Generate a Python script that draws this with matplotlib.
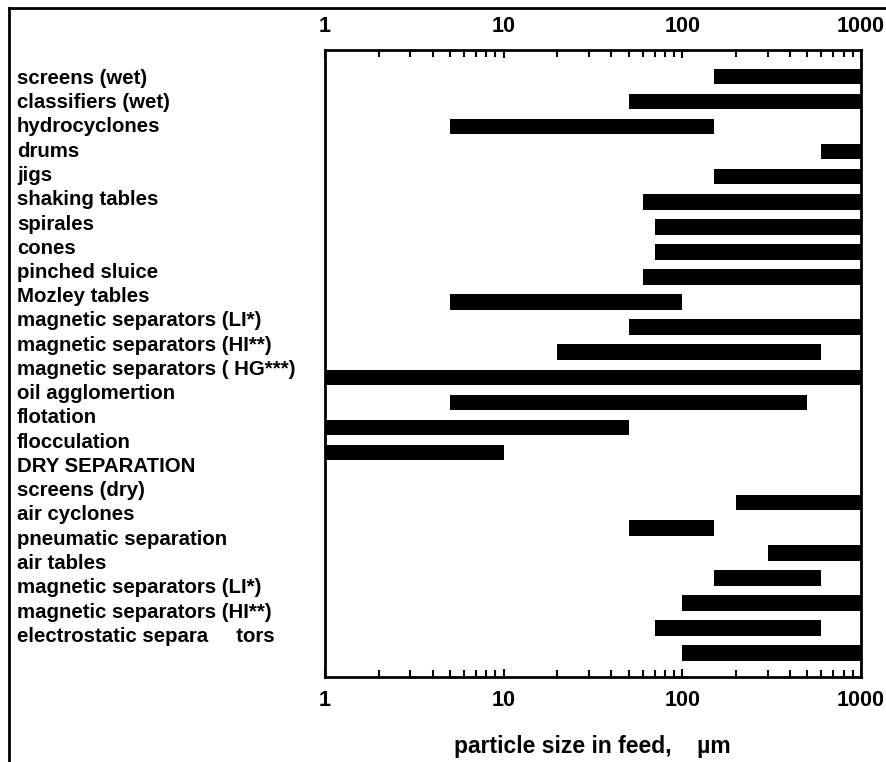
import matplotlib
matplotlib.use("Agg")
import matplotlib.pyplot as plt
from matplotlib.lines import Line2D
from matplotlib.ticker import LogLocator, FixedLocator, NullFormatter

plt.rcParams['font.family'] = ['Liberation Sans', 'DejaVu Sans']
plt.rcParams['font.weight'] = 'bold'

labels = [
    "screens (wet)", "classifiers (wet)", "hydrocyclones", "drums", "jigs",
    "shaking tables", "spirales", "cones", "pinched sluice", "Mozley tables",
    "magnetic separators (LI*)", "magnetic separators (HI**)",
    "magnetic separators ( HG***)", "oil agglomertion", "flotation",
    "flocculation", "DRY SEPARATION", "screens (dry)", "air cyclones",
    "pneumatic separation", "air tables", "magnetic separators (LI*)",
    "magnetic separators (HI**)", "electrostatic separa     tors",
]

# bar rows (slot index) and ranges in micrometres; slot 16 (DRY SEPARATION) has no bar
bar_rows = [0, 1, 2, 3, 4, 5, 6, 7, 8, 9, 10, 11, 12, 13, 14, 15,
            17, 18, 19, 20, 21, 22, 23]
size_min = [150, 50, 5, 600, 150, 60, 70, 70, 60, 5, 50, 20, 1, 5, 1, 1,
            200, 50, 300, 150, 100, 70, 100]
size_max = [1000, 1000, 150, 1000, 1000, 1000, 1000, 1000, 1000, 100, 1000, 600,
            1000, 500, 50, 10,
            1000, 150, 1000, 600, 1000, 600, 1000]

tick_values = [1, 10, 100, 1000]
tick_labels = ["1", "10", "100", "1000"]

fig = plt.figure(figsize=(8.86, 7.62), dpi=100)
ax = fig.add_axes([325/886, 1-677/762, (861-325)/886, (677-50)/762])

widths = [b - a for a, b in zip(size_min, size_max)]
ax.barh(bar_rows, widths, left=size_min, height=0.62, color='black')

ax.set_xscale('log')
ax.set_xlim(1, 1000)
ax.set_ylim(23.95, -1.05)

ax.xaxis.set_major_locator(FixedLocator(tick_values))
ax.set_xticklabels(tick_labels, fontweight='bold')
ax.xaxis.set_minor_locator(LogLocator(base=10, subs=range(2, 10)))
ax.xaxis.set_minor_formatter(NullFormatter())
ax.tick_params(axis='x', which='both', direction='in', top=True, bottom=True,
               labeltop=True, labelbottom=True, width=1.5, labelsize=15.5, pad=9)
ax.tick_params(axis='x', which='major', length=6)
ax.tick_params(axis='x', which='minor', length=5)
ax.set_yticks([])
for s in ax.spines.values():
    s.set_linewidth(2)

# x-axis title
fig.text(592/886, 1 - 746/762, "particle size in feed,    \u00b5m", fontsize=16.5,
         fontweight='bold', ha='center', va='center')

# category labels at left (own spacing, as in the reference)
y0 = 78.5
dy = 24.25
for i, lab in enumerate(labels):
    fig.text(17/886, 1 - (y0 + i*dy)/762, lab, fontsize=14.7, fontweight='bold',
             ha='left', va='center')

# outer frame (top and left edges)
fig.add_artist(Line2D([9/886, 1.0], [1-8/762, 1-8/762], color='black', lw=2,
                      transform=fig.transFigure))
fig.add_artist(Line2D([9/886, 9/886], [1-8/762, 0.0], color='black', lw=2,
                      transform=fig.transFigure))

fig.savefig("out.png", dpi=100)
